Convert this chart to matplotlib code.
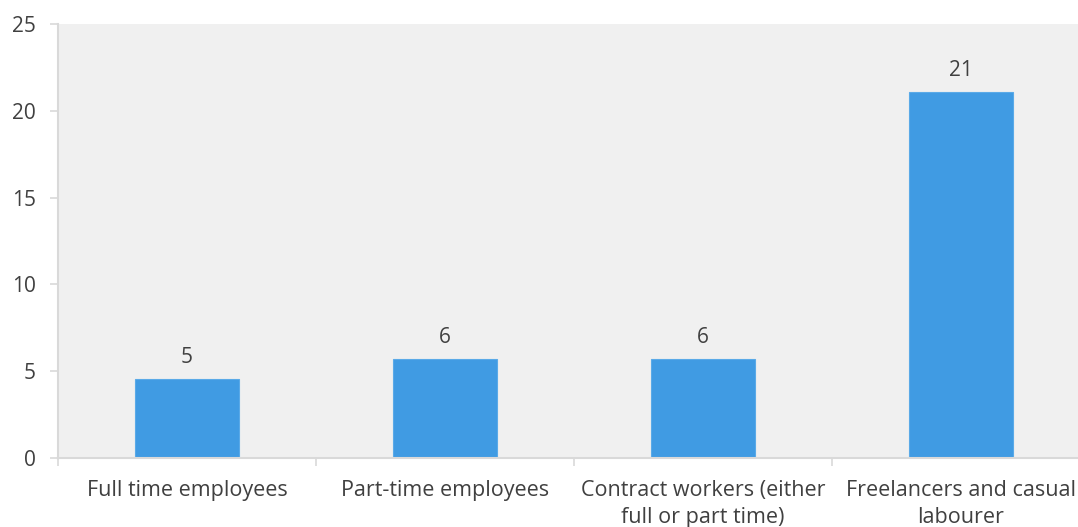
import numpy as np
import matplotlib.pyplot as plt

categories = ['Full time employees', 'Part-time employees',
              'Contract workers (either\nfull or part time)',
              'Freelancers and casual\nlabourer']
values = [4.55, 5.7, 5.7, 21.08]
value_labels = ['5', '6', '6', '21']

plt.rcParams['font.family'] = ['Open Sans', 'DejaVu Sans']
text_color = '#404040'
grid_color = '#d9d9d9'

fig = plt.figure(figsize=(10.78, 5.27), dpi=100)
# plot area runs past the right edge of the figure, as in the original
ax = fig.add_axes([58 / 1078, 69 / 527, 1032 / 1078, 434 / 527])
ax.set_facecolor('#f0f0f0')

x = np.arange(len(categories))
bars = ax.bar(x, values, width=0.4, color='#409be3', edgecolor='#5aaae8', linewidth=0.8)

for b, lab in zip(bars, value_labels):
    ax.annotate(lab, (b.get_x() + b.get_width() / 2, b.get_height()),
                xytext=(0, 8), textcoords='offset points', ha='center', va='bottom',
                fontsize=15, color=text_color)

ax.set_xlim(-0.5, len(categories) - 0.5)
ax.set_ylim(0, 25)
ax.set_yticks([0, 5, 10, 15, 20, 25])

ax.set_xticks(x)
ax.set_xticklabels(categories, fontsize=15.5, color=text_color, linespacing=1.35)
ax.set_xticks(np.arange(len(categories) + 1) - 0.5, minor=True)
ax.tick_params(axis='x', which='major', length=0, pad=16)
ax.tick_params(axis='x', which='minor', length=6, color=grid_color, width=1.2)
ax.tick_params(axis='y', length=6, color=grid_color, width=1.2, labelsize=15,
               labelcolor=text_color, pad=10)

for s in ['top', 'right']:
    ax.spines[s].set_visible(False)
for s in ['left', 'bottom']:
    ax.spines[s].set_color(grid_color)
    ax.spines[s].set_linewidth(1.5)

fig.savefig('out.png', dpi=100)
